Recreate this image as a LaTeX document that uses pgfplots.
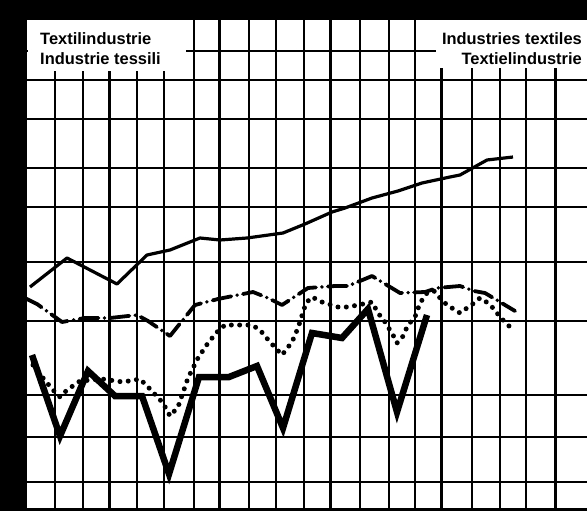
\documentclass[border=0pt]{standalone}
\usepackage{fontspec}
\setmainfont{Liberation Sans}
\usepackage{pgfplots}
\pgfplotsset{compat=1.18}
\usepackage{pgfplotstable}

\pgfplotstableread{
x y
30 287
67 258
117 284
147 255
170 250
200 238
220 240
247 238
283 233
305 224
332 212
345 208
372 198
398 191
422 183
450 177
460 175
487 160
513 157
}\thinline

\pgfplotstableread{
x y
25 298
37 304
62 322
85 318
110 318
137 315
148 321
170 336
178 326
195 305
218 299
253 292
268 298
282 305
308 288
335 286
348 286
372 276
400 293
425 292
437 288
460 286
474 291
485 293
510 308
515 311
}\dashdotline

\pgfplotstableread{
x y
33 365
43 378
53 390
60 397
67 390
80 381
102 379
123 382
140 379
150 389
163 403
170 416
178 407
188 378
198 358
208 343
218 331
225 325
252 325
260 330
270 342
282 355
292 342
298 328
306 303
312 297
322 302
338 307
348 307
363 304
372 302
378 313
385 322
393 335
397 343
402 338
408 325
415 317
420 303
427 293
434 291
440 298
447 305
460 313
467 308
474 303
480 298
488 303
494 309
500 317
505 322
511 328
}\dottedline

\pgfplotstableread{
x y
32 355
60 436
88 371
115 396
142 396
169 474
199 377
229 377
257 366
283 428
312 333
342 338
368 309
397 412
427 315
}\thickline

\begin{document}
\begin{tikzpicture}
\begin{axis}[
  width=587bp, height=511bp, scale only axis,
  xmin=0, xmax=587, ymin=0, ymax=511, y dir=reverse,
  axis line style={draw=none}, tick style={draw=none},
  major tick length=0pt,
  xtick={55,83,137,164,194,249,276,304,360,389,415,472,500,526},
  ytick={51,80,119,168,207,262,321,395,437,482},
  xticklabels={}, yticklabels={},
  extra x ticks={109,219,330,441,555},
  extra x tick labels={},
  extra x tick style={grid=major, major grid style={line width=3bp, black}},
  grid=major,
  major grid style={line width=1.2bp, black},
  clip=true,
]
% masks behind the titles
\fill[white] (axis cs:28,19) rectangle (axis cs:186,71);
\fill[white] (axis cs:436,19) rectangle (axis cs:587,68);
% black borders of the scan
\fill[black] (axis cs:0,0) rectangle (axis cs:587,20);
\fill[black] (axis cs:0,0) rectangle (axis cs:27,511);
\fill[black] (axis cs:0,508) rectangle (axis cs:587,511);
% titles
\node[anchor=base west, inner sep=0pt, font=\fontsize{16.5}{19}\selectfont\bfseries] at (axis cs:40,45) {Textilindustrie};
\node[anchor=base west, inner sep=0pt, font=\fontsize{16.5}{19}\selectfont\bfseries] at (axis cs:40,65) {Industrie tessili};
\node[anchor=base east, inner sep=0pt, font=\fontsize{16.5}{19}\selectfont\bfseries] at (axis cs:582,45) {Industries textiles};
\node[anchor=base east, inner sep=0pt, font=\fontsize{16.5}{19}\selectfont\bfseries] at (axis cs:582,65) {Textielindustrie};
% series
\addplot[black, line width=3.2bp, line join=round] table[x=x,y=y] {\thinline};
\addplot[black, line width=3.8bp, line cap=round, line join=round,
  dash pattern=on 19bp off 6bp on 0bp off 6bp] table[x=x,y=y] {\dashdotline};
\addplot[black, line width=5bp, line cap=round,
  dash pattern=on 0bp off 8.3bp] table[x=x,y=y] {\dottedline};
\addplot[black, line width=6.5bp, line join=miter] table[x=x,y=y] {\thickline};
\end{axis}
\pgfresetboundingbox
\path (current axis.south west) rectangle (current axis.north east);
\end{tikzpicture}
\end{document}
